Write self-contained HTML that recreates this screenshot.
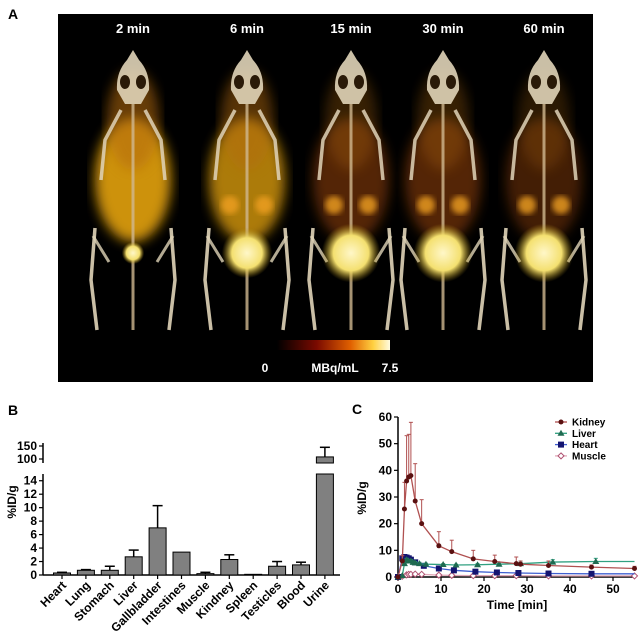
<!DOCTYPE html>
<html><head><meta charset="utf-8"><style>
html,body{margin:0;padding:0;background:#fff;}
svg{display:block;font-family:"Liberation Sans",Arial,sans-serif;}
</style></head><body>
<svg id="fig" width="644" height="641" viewBox="0 0 644 641" xmlns="http://www.w3.org/2000/svg">
<defs>
  <filter id="blur3"><feGaussianBlur stdDeviation="3"/></filter>
  <filter id="blur6"><feGaussianBlur stdDeviation="6"/></filter>
  <linearGradient id="cbar" x1="0" x2="1" y1="0" y2="0">
    <stop offset="0" stop-color="#000"/><stop offset="0.35" stop-color="#7a0a00"/>
    <stop offset="0.65" stop-color="#e06000"/><stop offset="0.85" stop-color="#ffd040"/><stop offset="1" stop-color="#fffbe0"/>
  </linearGradient>
  <radialGradient id="bladder"><stop offset="0" stop-color="#fff7c8"/><stop offset="0.6" stop-color="#f4e070"/><stop offset="1" stop-color="#b08a10" stop-opacity="0"/></radialGradient>
</defs>
<text x="8" y="19" font-size="14" font-weight="bold">A</text>
<g id="panelA">
  <rect x="58" y="14" width="535" height="368" fill="#000"/>
</g>
<text x="8" y="415" font-size="14" font-weight="bold">B</text>
<g id="panelB"></g>
<text x="352" y="414" font-size="14" font-weight="bold">C</text>
<g id="panelC"></g>
</svg>
<script>
var NS="http://www.w3.org/2000/svg";
function mk(parent,tag,attrs,txt){var e=document.createElementNS(NS,tag);for(var k in attrs)e.setAttribute(k,attrs[k]);if(txt!==undefined)e.textContent=txt;parent.appendChild(e);return e;}

// ---------- Panel A ----------
var timeLabels=["2 min","6 min","15 min","30 min","60 min"];
var bodyIntensity=[0.95,0.8,0.5,0.5,0.4];
var bladderSize=[8,18,21,21,21];
var A=document.getElementById('panelA');
var mouseX=[133,247,351,443,544];
for(var i=0;i<5;i++){
  var cx=mouseX[i];
  var g=mk(A,'g',{});
  
  
  var t=mk(A,'text',{x:cx,y:33,'text-anchor':'middle',fill:'#fff','font-size':'13','font-weight':'bold'},timeLabels[i]);
  
  
  var bi=bodyIntensity[i];
  var col=bi>0.7?'#d89a10':'#a84c08';
  mk(g,'ellipse',{cx:cx,cy:180,rx:38,ry:62,fill:col,opacity:bi,filter:'url(#blur6)'});
  mk(g,'ellipse',{cx:cx,cy:120,rx:26,ry:50,fill:'#b46a10',opacity:bi*0.6,filter:'url(#blur6)'});
  if(i>=1){mk(g,'circle',{cx:cx-17,cy:205,r:9,fill:'#f0a020',opacity:0.8,filter:'url(#blur3)'});mk(g,'circle',{cx:cx+17,cy:205,r:9,fill:'#f0a020',opacity:0.8,filter:'url(#blur3)'});}
  mk(g,'path',{d:'M'+(cx)+' 50 L'+(cx+6)+' 60 Q'+(cx+17)+' 72 '+(cx+16)+' 90 L'+(cx+8)+' 104 L'+(cx-8)+' 104 L'+(cx-16)+' 90 Q'+(cx-17)+' 72 '+(cx-6)+' 60 Z',fill:'#e0d4b8',opacity:0.9});
  mk(g,'ellipse',{cx:cx-8,cy:82,rx:5,ry:7,fill:'#2a1a08'});
  mk(g,'ellipse',{cx:cx+8,cy:82,rx:5,ry:7,fill:'#2a1a08'});
  mk(g,'path',{d:'M'+(cx-12)+' 110 L'+(cx-28)+' 140 L'+(cx-32)+' 180 M'+(cx+12)+' 110 L'+(cx+28)+' 140 L'+(cx+32)+' 180',stroke:'#e0d4b8','stroke-width':'3.5',fill:'none',opacity:0.85});
  mk(g,'line',{x1:cx,y1:104,x2:cx,y2:330,stroke:'#d0b890','stroke-width':'3',opacity:0.8});
  mk(g,'path',{d:'M'+(cx-38)+' 228 L'+(cx-42)+' 280 L'+(cx-36)+' 330 M'+(cx+38)+' 228 L'+(cx+42)+' 280 L'+(cx+36)+' 330',stroke:'#e0d4b8','stroke-width':'3.5',fill:'none',opacity:0.9});
  mk(g,'path',{d:'M'+(cx-24)+' 262 L'+(cx-40)+' 236 M'+(cx+24)+' 262 L'+(cx+40)+' 236',stroke:'#e0d4b8','stroke-width':'3',fill:'none',opacity:0.8});
  mk(g,'circle',{cx:cx,cy:253,r:bladderSize[i]*1.4,fill:'url(#bladder)'});
}
var cb=mk(A,'rect',{x:277,y:340,width:113,height:10,fill:'url(#cbar)'});


[[265,'0'],[335,'MBq/mL'],[390,'7.5']].forEach(function(p){
  var e=mk(A,'text',{x:p[0],y:372,'text-anchor':'middle',fill:'#fff','font-size':'12','font-weight':'bold'},p[1]);
  
  
});

// ---------- Panel B ----------
var organs=["Heart","Lung","Stomach","Liver","Gallbladder","Intestines","Muscle","Kindney","Spleen","Testicles","Blood","Urine"];
var organMeans=[0.3,0.7,0.7,2.7,7.0,3.4,0.2,2.3,0.1,1.3,1.5,108];
var organErrTop=[0.4,0.8,1.3,3.7,10.3,3.4,0.4,3.0,0.1,2.0,1.9,145];
var lowTicks=[0,2,4,6,8,10,12,14];
var highTicks=[100,150];
var B=document.getElementById('panelB');
function yLow(v){return 575-v*(101/15);}
function yHigh(v){return 459-(v-100)*(13/50);}
function yB(v){return v<=15?yLow(v):yHigh(v);}
function xB(i){return 62+i*23.9;}
mk(B,'line',{x1:43,y1:575,x2:340,y2:575,stroke:'#000','stroke-width':'1.5'});
mk(B,'line',{x1:43,y1:575,x2:43,y2:474,stroke:'#000','stroke-width':'1.5'});
mk(B,'line',{x1:43,y1:443,x2:43,y2:463,stroke:'#000','stroke-width':'1.5'});
lowTicks.forEach(function(v){
  mk(B,'line',{x1:39,y1:yLow(v),x2:43,y2:yLow(v),stroke:'#000','stroke-width':'1.2'});
  var e=mk(B,'text',{x:37,y:yLow(v)+4,'text-anchor':'end','font-size':'12','font-weight':'bold'},String(v));
  
  
});
highTicks.forEach(function(v){
  mk(B,'line',{x1:39,y1:yHigh(v),x2:43,y2:yHigh(v),stroke:'#000','stroke-width':'1.2'});
  var e=mk(B,'text',{x:37,y:yHigh(v)+4,'text-anchor':'end','font-size':'12','font-weight':'bold'},String(v));
  
  
});
var yl=mk(B,'text',{x:0,y:0,transform:'translate(16,502) rotate(-90)','text-anchor':'middle','font-size':'12','font-weight':'bold'},'%ID/g');


organs.forEach(function(name,i){
  var cx=xB(i),w=17,m=organMeans[i],et=organErrTop[i];
  var top=m>15?474:yLow(m);
  var bar=mk(B,'rect',{x:cx-w/2,y:top,width:w,height:575-top,fill:'#808080',stroke:'#000','stroke-width':'1'});
  
  
  if(m>15){
    var ub=mk(B,'rect',{x:cx-w/2,y:yHigh(m),width:w,height:463-yHigh(m),fill:'#808080',stroke:'#000','stroke-width':'1'});
    
    
  }
  if(et>m){
    var yt=yB(et),ym=m>15?yHigh(m):yLow(m);
    mk(B,'line',{x1:cx,y1:ym,x2:cx,y2:yt,stroke:'#000','stroke-width':'1.5'});
    mk(B,'line',{x1:cx-5,y1:yt,x2:cx+5,y2:yt,stroke:'#000','stroke-width':'1.5'});
  }
  mk(B,'line',{x1:cx,y1:575,x2:cx,y2:579,stroke:'#000','stroke-width':'1.2'});
  var lb=mk(B,'text',{x:0,y:0,transform:'translate('+(cx+5)+',586) rotate(-45)','text-anchor':'end','font-size':'12','font-weight':'bold'},name);
  
  
});

// ---------- Panel C ----------
var kidneyT=[0,1,1.5,2,2.5,3,4,5.5,9.5,12.5,17.5,22.5,27.5,28.5,35,45,55];
var kidneyV=[0,6,25.5,36,37.5,38,28.5,20,11.7,9.5,6.8,5.8,5,4.8,4.3,3.7,3.2];
var kidneyE=[0,8,35.5,53,53.5,58,42.5,29,17,13.8,10,8.2,7.5,6,6,4.5,4];
var liverT=[0,1,1.5,2,2.5,3,3.5,4,5,6.5,10.5,13.5,18.5,23.5,28.5,36,46];
var liverV=[0,0.5,5,6.5,6,6,5.5,5.3,5,4.8,4.7,4.5,4.6,4.8,5,5.6,5.8];
var liverE=[0,0.5,5,7,6.5,6.5,6,5.8,5.5,5.2,5,4.8,5,5.2,5.5,6.5,7];
var heartT=[0,1,1.5,2,2.5,3,4,6,9.5,13,18,23,28,35,45];
var heartV=[0,7,7.5,7.3,7,6.5,5.5,4.2,3.2,2.5,2,1.7,1.5,1.3,1.2];
var muscleT=[0,1,2,2.5,3,4,5.5,9.5,12.5,17.5,22.5,27.5,35,45,55];
var muscleV=[0,0.3,0.8,1,1,1.1,1,0.7,0.6,0.5,0.5,0.5,0.4,0.4,0.4];
var xTicksC=[0,10,20,30,40,50];
var yTicksC=[0,10,20,30,40,50,60];
var C=document.getElementById('panelC');
function xC(t){return 398+t*4.3;}
function yC(v){return 577-v*(160/60);}
mk(C,'line',{x1:398,y1:577,x2:xC(55),y2:577,stroke:'#000','stroke-width':'1.5'});
mk(C,'line',{x1:398,y1:577,x2:398,y2:yC(60),stroke:'#000','stroke-width':'1.5'});
yTicksC.forEach(function(v){
  mk(C,'line',{x1:394,y1:yC(v),x2:398,y2:yC(v),stroke:'#000','stroke-width':'1.2'});
  var e=mk(C,'text',{x:392,y:yC(v)+4,'text-anchor':'end','font-size':'12','font-weight':'bold'},String(v));
  
  
});
xTicksC.forEach(function(v){
  mk(C,'line',{x1:xC(v),y1:577,x2:xC(v),y2:581,stroke:'#000','stroke-width':'1.2'});
  var e=mk(C,'text',{x:xC(v),y:593,'text-anchor':'middle','font-size':'12','font-weight':'bold'},String(v));
  
  
});
var xt=mk(C,'text',{x:517,y:609,'text-anchor':'middle','font-size':'12','font-weight':'bold'},'Time [min]');


var ytc=mk(C,'text',{x:0,y:0,transform:'translate(366,498) rotate(-90)','text-anchor':'middle','font-size':'12','font-weight':'bold'},'%ID/g');


function series(T,V,E,line,mark,shape,name){
  var g=mk(C,'g',{});
  
  
  if(E){T.forEach(function(t,i){if(E[i]>V[i]){mk(g,'line',{x1:xC(t),y1:yC(V[i]),x2:xC(t),y2:yC(E[i]),stroke:line,'stroke-width':'1'});mk(g,'line',{x1:xC(t)-2,y1:yC(E[i]),x2:xC(t)+2,y2:yC(E[i]),stroke:line,'stroke-width':'1'});}});}
  var d=T.map(function(t,i){return (i?'L':'M')+xC(t)+' '+yC(V[i]);}).join(' ');
  if(T[T.length-1]<55)d+=' L'+xC(55)+' '+yC(V[V.length-1]);
  mk(g,'path',{d:d,fill:'none',stroke:line,'stroke-width':'1.3'});
  T.forEach(function(t,i){
    var x=xC(t),y=yC(V[i]),p;
    if(shape==='c')p=mk(g,'circle',{cx:x,cy:y,r:2.5,fill:mark});
    else if(shape==='t')p=mk(g,'path',{d:'M'+x+' '+(y-3.5)+' L'+(x+3.5)+' '+(y+2.5)+' L'+(x-3.5)+' '+(y+2.5)+' Z',fill:mark});
    else if(shape==='s')p=mk(g,'rect',{x:x-3,y:y-3,width:6,height:6,fill:mark});
    else p=mk(g,'path',{d:'M'+x+' '+(y-3)+' L'+(x+3)+' '+y+' L'+x+' '+(y+3)+' L'+(x-3)+' '+y+' Z',fill:'#fff',stroke:mark,'stroke-width':'1'});
    
    
  });
}
series(muscleT,muscleV,null,'#e0a8b8','#b05070','d','muscle');
series(heartT,heartV,null,'#4060d0','#141470','s','heart');
series(liverT,liverV,liverE,'#30a080','#1f6a50','t','liver');
series(kidneyT,kidneyV,kidneyE,'#b05050','#5a1010','c','kidney');
var leg=[['Kidney','#b05050','#5a1010','c'],['Liver','#30a080','#1f6a50','t'],['Heart','#4060d0','#141470','s'],['Muscle','#e0a8b8','#b05070','d']];
leg.forEach(function(L,i){
  var y=422+i*11.3;
  var g=mk(C,'g',{});
  
  
  mk(g,'line',{x1:555,y1:y,x2:567,y2:y,stroke:L[1],'stroke-width':'1.3'});
  var x=561;
  if(L[3]==='c')mk(g,'circle',{cx:x,cy:y,r:2.5,fill:L[2]});
  else if(L[3]==='t')mk(g,'path',{d:'M'+x+' '+(y-3.5)+' L'+(x+3.5)+' '+(y+2.5)+' L'+(x-3.5)+' '+(y+2.5)+' Z',fill:L[2]});
  else if(L[3]==='s')mk(g,'rect',{x:x-3,y:y-3,width:6,height:6,fill:L[2]});
  else mk(g,'path',{d:'M'+x+' '+(y-3)+' L'+(x+3)+' '+y+' L'+x+' '+(y+3)+' L'+(x-3)+' '+y+' Z',fill:'#fff',stroke:L[2]});
  mk(g,'text',{x:572,y:y+3.5,'font-size':'10','font-weight':'bold'},L[0]);
});
</script>
</body></html>
